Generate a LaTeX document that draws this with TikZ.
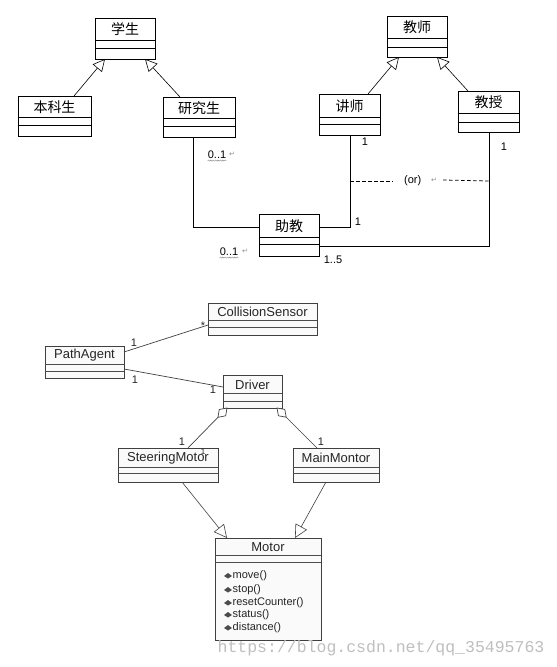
\documentclass[tikz,border=0pt]{standalone}
\usepackage{fontspec}
\setmainfont{Liberation Sans}
\newfontfamily\cjk{Noto Sans CJK SC}
\newfontfamily\wmfont{Liberation Mono}
\newfontfamily\djv{DejaVu Sans}
\usetikzlibrary{arrows.meta,decorations.pathmorphing,calc}

% name, x1, y1, x2, y2, line1, line2, text, style prefix
\newcommand{\umlcls}[9]{%
  \node[#9box, anchor=north west, minimum width={(#4-#2)*1pt}, minimum height={(#5-#3)*1pt}] (#1) at (#2,#3) {};
  \node[#9name] (#1-name) at ({(#2+#4)/2},{(#3+#6)/2+0.5}) {#8};
  \draw[#9sep] (#2,#6) -- (#4,#6);
  \draw[#9sep] (#2,#7) -- (#4,#7);
}
% aggregation: whole-end coordinate, part-end coordinate
\newcommand{\aggdraw}[2]{%
  \draw[bassoc] ($(#1)!13pt!(#2)$) -- (#2);
  \draw[diam] (#1) -- ($(#1)!6.5pt!(#2)!4.5pt!90:(#2)$) -- ($(#1)!13pt!(#2)$) -- ($(#1)!6.5pt!(#2)!4.5pt!-90:(#2)$) -- cycle;
}

\begin{document}
\begin{tikzpicture}[x=1pt,y=-1pt,
  tbox/.style={draw=black, line width=0.8pt, fill=white, inner sep=0pt, outer sep=0pt, rectangle},
  tname/.style={font=\cjk\fontsize{14}{14}\selectfont, inner sep=0pt},
  tsep/.style={draw=black, line width=0.8pt},
  bbox/.style={draw=black!75, line width=0.8pt, fill=black!2, inner sep=0pt, outer sep=0pt, rectangle},
  bname/.style={font=\fontsize{13}{13}\selectfont, inner sep=0pt, text=black!85},
  bsep/.style={draw=black!70, line width=0.7pt},
  lbl/.style={font=\fontsize{11}{11}\selectfont, inner sep=0pt},
  mlbl/.style={font=\fontsize{11}{11}\selectfont, inner sep=0pt, anchor=west, text=black!85},
  ret/.style={font=\djv\fontsize{7}{7}\selectfont, inner sep=0pt, text=black!45},
  wavy/.style={draw=black!45, line width=0.4pt, decorate, decoration={snake, amplitude=0.6pt, segment length=2.4pt}},
  gen/.style={-{Triangle[open, length=12pt, width=12pt]}, line width=0.6pt},
  bgen/.style={-{Triangle[open, length=13pt, width=13pt]}, line width=0.6pt, draw=black!75},
  assoc/.style={line width=0.8pt},
  bassoc/.style={line width=0.7pt, draw=black!75},
  diam/.style={line width=0.7pt, draw=black!75, fill=white, line join=miter},
  ordash/.style={line width=0.8pt, dash pattern=on 3.5pt off 2.5pt}
]
\useasboundingbox (0,0) rectangle (557,667);
\fill[white] (0,0) rectangle (557,667);

% ---------------- upper diagram ----------------
\umlcls{xuesheng}{95}{18}{155}{59}{40}{48}{学生}{t}
\umlcls{benke}{18}{96}{91}{136}{117}{125}{本科生}{t}
\umlcls{yanjiu}{163}{97}{235}{137}{118}{126}{研究生}{t}
\umlcls{jiaoshi}{387}{16}{447}{57}{38}{47}{教师}{t}
\umlcls{jiangshi}{319}{94}{380}{135}{117}{124}{讲师}{t}
\umlcls{jiaoshou}{458}{91}{519}{132}{113}{122}{教授}{t}
\umlcls{zhujiao}{259}{214}{319}{256}{237}{244}{助教}{t}

\draw[gen] ([xshift=19.5pt]benke.north) -- ([xshift=-20pt]xuesheng.south);
\draw[gen] ([xshift=-19pt]yanjiu.north) -- ([xshift=20pt]xuesheng.south);
\draw[gen] ([xshift=18.5pt]jiangshi.north) -- ([xshift=-18pt]jiaoshi.south);
\draw[gen] ([xshift=-20.5pt]jiaoshou.north) -- ([xshift=20pt]jiaoshi.south);

\draw[assoc] ([xshift=-6pt]yanjiu.south) |- ([yshift=8pt]zhujiao.west);
\draw[assoc] ([xshift=0.5pt]jiangshi.south) |- ([yshift=8pt]zhujiao.east);
\draw[assoc] ([xshift=0.5pt]jiaoshou.south) |- ([yshift=-11pt]zhujiao.east);

% {or} constraint
\coordinate (orl) at (350,181);
\coordinate (orr) at (489,181);
\node[lbl, anchor=west] (ortext) at (404,181) {(or)};
\node[ret] (orret) at (434,180) {↵};
\draw[ordash] (orl) -- ([xshift=-11pt]ortext.west);
\draw[ordash] ([xshift=6pt]orret.east) -- (orr);

% multiplicities
\node[lbl] (m1) at (217,155) {0..1};
\draw[wavy] ([yshift=-1.5pt]m1.south west) -- ([yshift=-1.5pt]m1.south east);
\node[ret] (m1r) at (232,154) {↵};
\node[lbl] (m2) at (229,252) {0..1};
\draw[wavy] ([yshift=-1.5pt]m2.south west) -- ([yshift=-1.5pt]m2.south east);
\node[ret] (m2r) at (245,251) {↵};
\node[lbl] (m3) at (365,142) {1};
\node[lbl] (m4) at (504,147) {1};
\node[lbl] (m5) at (358,222) {1};
\node[lbl] (m6) at (333,260) {1..5};

% ---------------- lower diagram ----------------
\umlcls{collision}{208}{303}{317}{335}{320}{327}{CollisionSensor}{b}
\umlcls{pathagent}{45}{346}{124}{378}{364}{371}{PathAgent}{b}
\umlcls{driver}{223}{375}{282}{408}{393}{401}{Driver}{b}
\umlcls{steering}{118}{448}{218}{482}{467}{473}{SteeringMotor}{b}
\umlcls{mainmotor}{293}{448}{379}{482}{467}{473}{MainMontor}{b}
\umlcls{motor}{215}{538}{321}{640}{555}{562}{Motor}{b}

\draw[bassoc] ([yshift=10pt]pathagent.east) -- ([yshift=-6pt]collision.west);
\draw[bassoc] ([yshift=-7pt]pathagent.east) -- ([yshift=4.5pt]driver.west);

\coordinate (dl) at ([xshift=-25.5pt]driver.south);
\coordinate (sl) at ([xshift=20pt]steering.north);
\coordinate (dr) at ([xshift=24.5pt]driver.south);
\coordinate (mr) at ([xshift=-19pt]mainmotor.north);
\aggdraw{dl}{sl}
\aggdraw{dr}{mr}

\draw[bgen] ([xshift=14pt]steering.south) -- ([xshift=-41pt]motor.north);
\draw[bgen] ([xshift=-10pt]mainmotor.south) -- ([xshift=27pt]motor.north);

\node[lbl, text=black!85] (p1) at (134,343) {1};
\node[lbl, text=black!85] (p2) at (203,326) {*};
\node[lbl, text=black!85] (p3) at (135,380) {1};
\node[lbl, text=black!85] (p4) at (213,390) {1};
\node[lbl, text=black!85] (p5) at (182,442) {1};
\node[lbl, text=black!85] (p6) at (321,442) {1};
\node[font=\fontsize{8}{8}\selectfont, inner sep=0pt, text=black!85] (p7) at (203,452) {1};

% Motor operations
\foreach \yy/\op [count=\i] in {576/move(), 590/stop(), 603/resetCounter(), 615/status(), 628/distance()}{
  \fill[black!70] (224,\yy) -- (228,\yy-3) -- (232,\yy) -- (228,\yy+2.5) -- cycle;
  \node[mlbl] (op\i) at (232.5,\yy) {\op};
}

% watermark
\node[font=\wmfont\fontsize{16.5}{16.5}\selectfont, text=black!25, inner sep=0pt] (wm) at (381,648) {https://blog.csdn.net/qq\_35495763};
\end{tikzpicture}
\end{document}
